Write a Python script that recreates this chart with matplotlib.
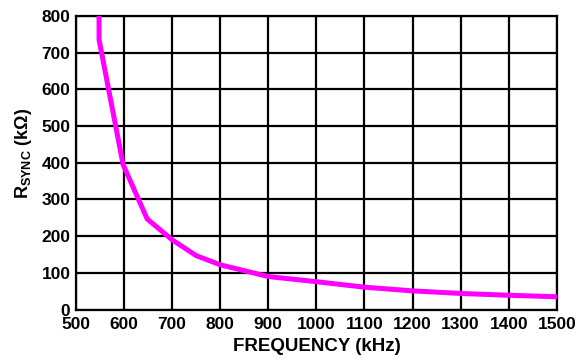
import matplotlib
matplotlib.use("Agg")
import matplotlib.pyplot as plt

plt.rcParams['font.family'] = ['Liberation Sans', 'DejaVu Sans']
plt.rcParams['font.weight'] = 'bold'
plt.rcParams['mathtext.fontset'] = 'custom'
plt.rcParams['mathtext.rm'] = 'Liberation Sans:bold'
plt.rcParams['mathtext.it'] = 'Liberation Sans:bold'
plt.rcParams['mathtext.bf'] = 'Liberation Sans:bold'

# curve
freq_khz = [548, 548, 598, 648, 700, 750, 800, 900, 1000, 1100, 1200, 1300, 1400, 1500]
r_sync_kohm = [800, 735, 395, 247, 190, 147, 122, 90, 76, 61, 51, 44, 39, 35]

x_ticks = list(range(500, 1501, 100))
y_ticks = list(range(0, 801, 100))

fig = plt.figure(figsize=(5.8, 3.6), dpi=100)
ax = fig.add_axes([0.131, 0.140, 0.829, 0.816])

ax.plot(freq_khz, r_sync_kohm, color='#ff00ff', linewidth=3.6, solid_joinstyle='miter', zorder=3)

ax.set_xlim(500, 1500)
ax.set_ylim(0, 800)
ax.set_xticks(x_ticks)
ax.set_yticks(y_ticks)
ax.grid(True, color='black', linewidth=1.6)
for s in ax.spines.values():
    s.set_linewidth(1.6)
ax.tick_params(length=0, labelsize=12.5)
ax.tick_params(axis='x', pad=5.5)
ax.tick_params(axis='y', pad=4)
for lbl in ax.get_xticklabels() + ax.get_yticklabels():
    lbl.set_fontweight('bold')

ax.set_xlabel('FREQUENCY (kHz)', fontsize=13.5, fontweight='bold', labelpad=4)
ax.set_ylabel(r'R$_{\mathrm{SYNC}}$ (k$\Omega$)', fontsize=13, fontweight='bold')
ax.yaxis.set_label_coords(-0.088, 0.533)

fig.savefig('out.png', dpi=100)
